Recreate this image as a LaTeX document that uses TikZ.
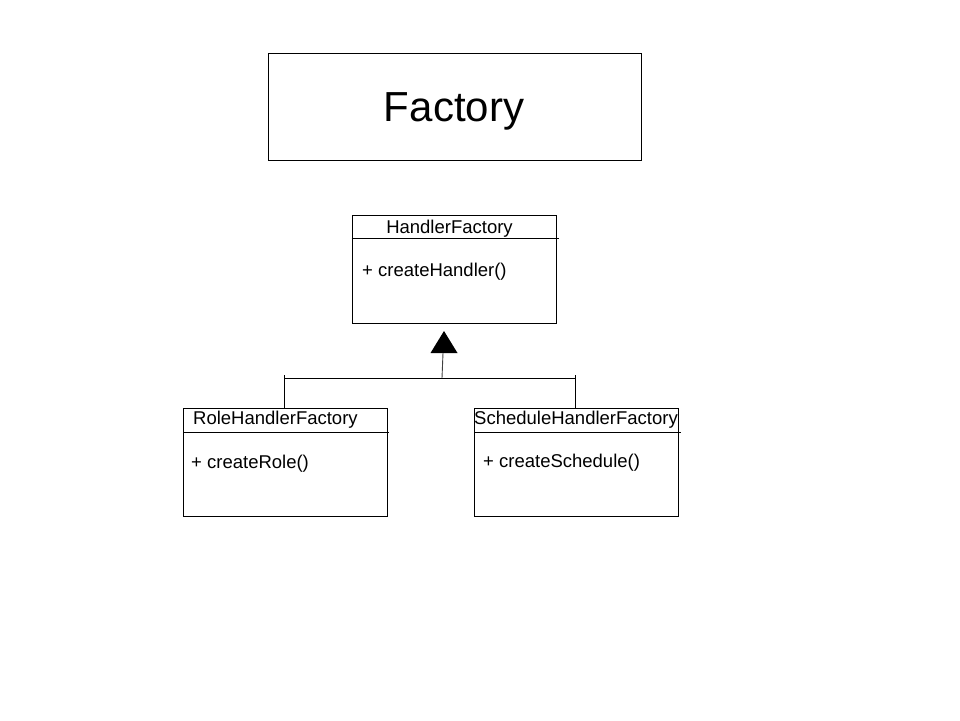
\documentclass[tikz,border=0pt]{standalone}
\usepackage{fontspec}
\setmainfont{Liberation Sans}
\begin{document}
\begin{tikzpicture}[x=1pt,y=-1pt,
  box/.style={draw,line width=0.9pt,inner sep=0pt},
  txt/.style={font=\fontsize{18.5}{20}\selectfont,inner sep=0pt},
  line/.style={line width=0.9pt}]
\useasboundingbox (0,0) rectangle (960,720);
% title
\node[box,minimum width=373pt,minimum height=107pt] (title) at (454.5,106.5) {};
\node[inner sep=0pt,font=\fontsize{42}{46}\selectfont] (titletxt) at (454,111) {Factory};
% HandlerFactory
\node[box,minimum width=204pt,minimum height=108pt] (hf) at (454,269) {};
\node[txt] (hfname) at (449.5,229) {HandlerFactory};
\draw[line] (hf.west |- 0,238) coordinate (hfsl) -- (559,238) coordinate (hfsr);
\node[txt,anchor=west] (hfop) at (362,272) {+ createHandler()};
% Role
\node[box,minimum width=204pt,minimum height=108pt] (rhf) at (285,462) {};
\node[txt,anchor=west] (rhfname) at (193,420) {RoleHandlerFactory};
\draw[line] (183,432) coordinate (rsl) -- (389,432) coordinate (rsr);
\node[txt,anchor=west] (rhfop) at (191,464) {+ createRole()};
% Schedule
\node[box,minimum width=204pt,minimum height=108pt] (shf) at (576,462) {};
\node[txt] (shfname) at (576,420) {ScheduleHandlerFactory};
\draw[line] (474,432) coordinate (ssl) -- (681,432) coordinate (ssr);
\node[txt,anchor=west] (shfop) at (483,463) {+ createSchedule()};
% inheritance
\coordinate (apex) at (444,331);
\coordinate (stemtop) at (443,353);
\coordinate (bus) at (442,378);
\coordinate (busl) at (284,378);
\coordinate (busr) at (575,378);
\fill (apex) -- (457.5,353) -- (430.5,353) -- cycle;
\draw[line,draw=black!75] (stemtop) -- (bus);
\draw[line] (busl) -- (busr);
\draw[line] (284,375) -- (rhf.north -| busl);
\draw[line] (575,375) -- (shf.north -| busr);
\end{tikzpicture}
\end{document}
